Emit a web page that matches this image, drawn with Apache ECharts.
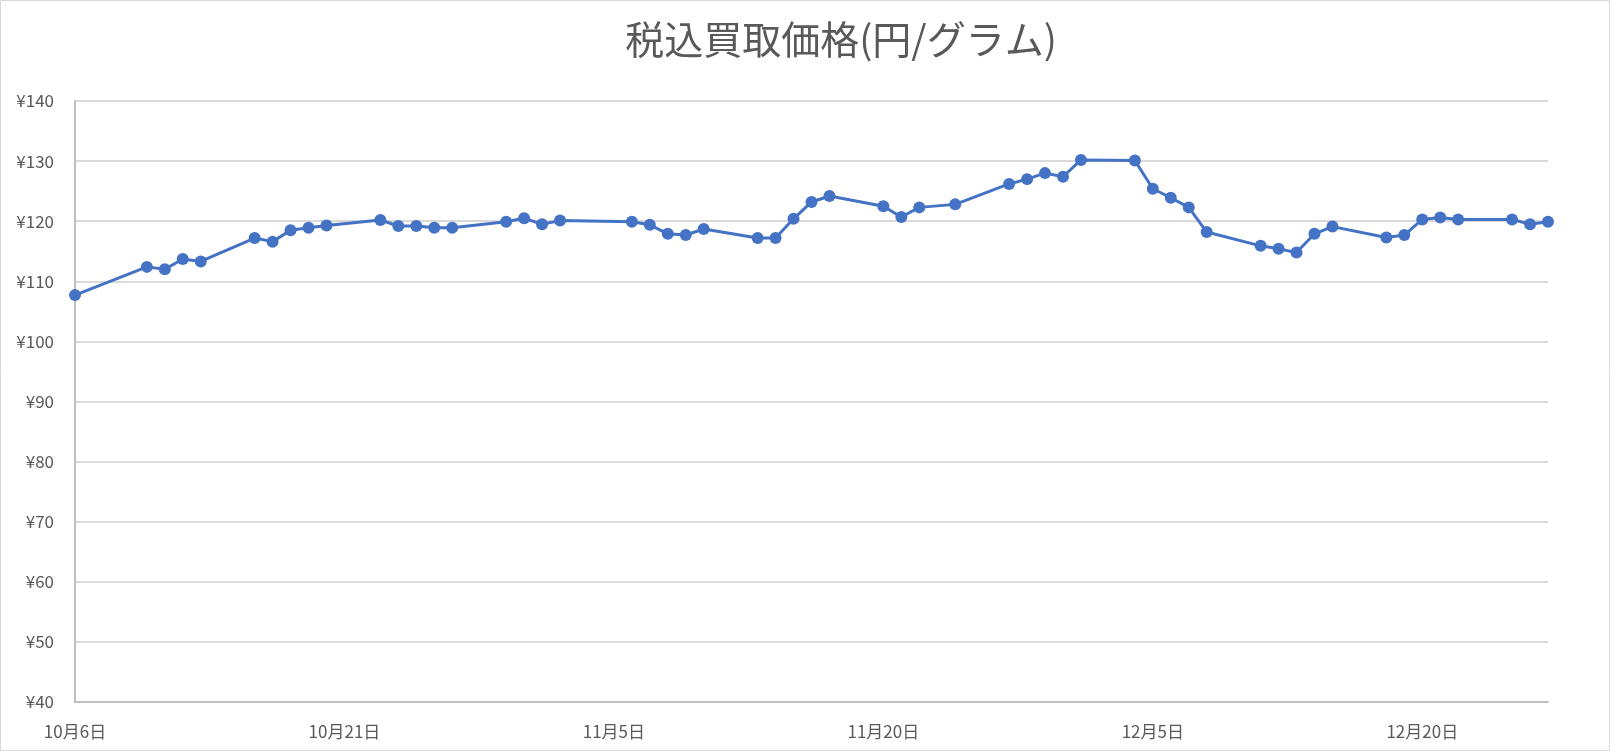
<!DOCTYPE html>
<html>
<head>
<meta charset="utf-8">
<script src="https://cdn.jsdelivr.net/npm/echarts@6/dist/echarts.min.js"></script>
<style>
html,body{margin:0;padding:0;background:#fff;}
#chart{width:1610px;height:751px;}
</style>
</head>
<body>
<div id="chart"></div>
<script>
// ---- data ----
const baseDate = '2023-10-06';
const dates = [
  '2023-10-06','2023-10-10','2023-10-11','2023-10-12','2023-10-13',
  '2023-10-16','2023-10-17','2023-10-18','2023-10-19','2023-10-20',
  '2023-10-23','2023-10-24','2023-10-25','2023-10-26','2023-10-27',
  '2023-10-30','2023-10-31','2023-11-01','2023-11-02',
  '2023-11-06','2023-11-07','2023-11-08','2023-11-09','2023-11-10',
  '2023-11-13','2023-11-14','2023-11-15','2023-11-16','2023-11-17',
  '2023-11-20','2023-11-21','2023-11-22','2023-11-24',
  '2023-11-27','2023-11-28','2023-11-29','2023-11-30','2023-12-01',
  '2023-12-04','2023-12-05','2023-12-06','2023-12-07','2023-12-08',
  '2023-12-11','2023-12-12','2023-12-13','2023-12-14','2023-12-15',
  '2023-12-18','2023-12-19','2023-12-20','2023-12-21','2023-12-22',
  '2023-12-25','2023-12-26','2023-12-27'
];
const prices = [
  107.7,112.4,112.0,113.7,113.3,
  117.2,116.6,118.5,118.9,119.3,
  120.2,119.2,119.2,118.9,118.9,
  119.9,120.5,119.5,120.1,
  119.9,119.4,117.9,117.7,118.7,
  117.2,117.2,120.4,123.2,124.2,
  122.5,120.7,122.3,122.8,
  126.2,127.0,128.0,127.4,130.2,
  130.1,125.4,123.9,122.3,118.2,
  115.9,115.4,114.8,117.9,119.1,
  117.3,117.7,120.3,120.6,120.3,
  120.3,119.5,119.9
];
const titleText = '税込買取価格(円/グラム)';
const yMin = 40, yMax = 140, yStep = 10;
const xStepDays = 15;

// ---- helpers ----
const DAY = 86400000;
function toUTC(s){ const p = s.split('-').map(Number); return Date.UTC(p[0], p[1]-1, p[2]); }
const base = toUTC(baseDate);
const dayOffsets = dates.map(d => Math.round((toUTC(d) - base) / DAY));
const seriesData = dayOffsets.map((x, i) => [x, prices[i]]);
const lastDay = dayOffsets[dayOffsets.length - 1];

const FONT = '"Noto Sans CJK JP", "Noto Sans", sans-serif';
const chart = echarts.init(document.getElementById('chart'), null, {renderer: 'canvas'});
chart.setOption({
  animation: false,
  backgroundColor: '#ffffff',
  title: {
    text: titleText,
    left: 836,
    top: 15,
    textAlign: 'center',
    textStyle: { fontFamily: FONT, fontSize: 39, fontWeight: 'normal', color: '#595959' }
  },
  graphic: [{
    type: 'rect', silent: true, z: -10,
    shape: { x: 0.5, y: 0.5, width: 1609, height: 750 },
    style: { fill: 'none', stroke: '#d9d9d9', lineWidth: 1 }
  }],
  grid: { left: 75, right: 62, top: 101, bottom: 49, containLabel: false },
  xAxis: {
    type: 'value',
    min: 0,
    max: lastDay,
    interval: xStepDays,
    axisLine: { show: true, onZero: false, lineStyle: { color: '#bfbfbf', width: 2 } },
    axisTick: { show: false },
    splitLine: { show: false },
    axisLabel: {
      showMaxLabel: false,
      margin: 21,
      color: '#595959', fontFamily: FONT, fontSize: 17,
      formatter: function (v) {
        if (v % xStepDays !== 0) return '';
        const d = new Date(base + v * DAY);
        return (d.getUTCMonth() + 1) + '月' + d.getUTCDate() + '日';
      }
    }
  },
  yAxis: {
    type: 'value',
    min: yMin, max: yMax, interval: yStep,
    axisLine: { show: true, lineStyle: { color: '#bfbfbf', width: 2 } },
    axisTick: { show: false },
    splitLine: { show: true, lineStyle: { color: '#d9d9d9', width: 2 } },
    axisLabel: {
      margin: 21,
      color: '#595959', fontFamily: FONT, fontSize: 17,
      formatter: '¥{value}'
    }
  },
  series: [{
    type: 'line',
    data: seriesData,
    symbol: 'circle',
    symbolSize: 12,
    showSymbol: true,
    lineStyle: { color: '#4472C4', width: 3 },
    itemStyle: { color: '#4472C4' },
    z: 5
  }]
});
</script>
</body>
</html>
